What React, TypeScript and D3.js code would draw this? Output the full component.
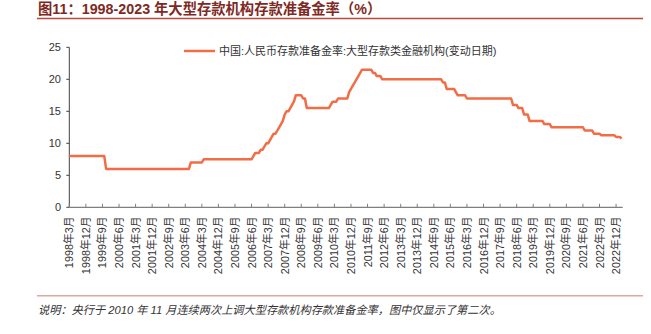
import React from "react";
import * as d3 from "d3";

// Change events: [year, month, rate(%)] — month-end value of the RRR for large institutions
const changeYears = [1998, 1999, 2003, 2004, 2006, 2006, 2006, 2007, 2007, 2007, 2007, 2007, 2007, 2007, 2007, 2007, 2007, 2008, 2008, 2008, 2008, 2008, 2008, 2008, 2010, 2010, 2010, 2010, 2010, 2011, 2011, 2011, 2011, 2011, 2011, 2011, 2012, 2012, 2015, 2015, 2015, 2015, 2016, 2018, 2018, 2018, 2019, 2019, 2020, 2021, 2021, 2022, 2022, 2023];
const changeMonths = [3, 11, 9, 4, 7, 8, 11, 1, 2, 4, 5, 6, 8, 9, 10, 11, 12, 1, 3, 4, 5, 6, 10, 12, 1, 2, 5, 11, 12, 1, 2, 3, 4, 5, 6, 12, 2, 5, 2, 4, 9, 10, 3, 4, 7, 10, 1, 9, 1, 7, 12, 4, 12, 3];
const changeRates = [8, 6, 7, 7.5, 8, 8.5, 9, 9.5, 10, 10.5, 11, 11.5, 12, 12.5, 13, 13.5, 14.5, 15, 15.5, 16, 16.5, 17.5, 17, 15.5, 16, 16.5, 17, 18, 18.5, 19, 19.5, 20, 20.5, 21, 21.5, 21, 20.5, 20, 19.5, 18.5, 18, 17.5, 17, 16, 15.5, 14.5, 13.5, 13, 12.5, 12, 11.5, 11.25, 11, 10.75];

const xTickLabels = [
  "1998年3月", "1998年12月", "1999年9月", "2000年6月", "2001年3月", "2001年12月", "2002年9月",
  "2003年6月", "2004年3月", "2004年12月", "2005年9月", "2006年6月", "2007年3月", "2007年12月",
  "2008年9月", "2009年6月", "2010年3月", "2010年12月", "2011年9月", "2012年6月", "2013年3月",
  "2013年12月", "2014年9月", "2015年6月", "2016年3月", "2016年12月", "2017年9月", "2018年6月",
  "2019年3月", "2019年12月", "2020年9月", "2021年6月", "2022年3月", "2022年12月",
];
const yTicks = [0, 5, 10, 15, 20, 25];

const titleText = "图11：1998-2023 年大型存款机构存款准备金率（%）";
const legendText = "中国:人民币存款准备金率:大型存款类金融机构(变动日期)";
const noteText = "说明：央行于 2010 年 11 月连续两次上调大型存款机构存款准备金率，图中仅显示了第二次。";

const W = 651;
const H = 334;
const FONT = "'Liberation Sans', 'Noto Sans CJK SC', sans-serif";
const LINE_COLOR = "#F26D45";

const monthIndex = (y: number, m: number) => (y - 1998) * 12 + (m - 3);

export default function App() {
  const x = d3.scaleLinear().domain([0, 300]).range([69.3, 621.6]);
  const y = d3.scaleLinear().domain([0, 25]).range([207.3, 47.3]);

  // Monthly line: each change connects from the prior month's value to the new month's value
  const pts: [number, number][] = [];
  changeYears.forEach((yr, i) => {
    const idx = monthIndex(yr, changeMonths[i]);
    if (i > 0) pts.push([idx - 1, changeRates[i - 1]]);
    pts.push([idx, changeRates[i]]);
  });

  const line = d3
    .line<[number, number]>()
    .x((d) => x(d[0]))
    .y((d) => y(d[1]));

  const x0 = x(0);
  const yBase = y(0);

  return (
    <svg
      width={W}
      height={H}
      style={{ position: "absolute", left: 0, top: 0, background: "#fff" }}
      fontFamily={FONT}
    >
      {/* Title */}
      <text x={38} y={14} fontSize={14.3} fontWeight="bold" fill="#7E2A24">
        {titleText}
      </text>
      <line x1={37} x2={643} y1={18.5} y2={18.5} stroke="#B9483A" strokeWidth={1.3} />

      {/* Legend */}
      <line x1={184} x2={215} y1={51} y2={51} stroke={LINE_COLOR} strokeWidth={2.5} />
      <text x={219} y={55} fontSize={11} fill="#333">
        {legendText}
      </text>

      {/* Y axis */}
      <line x1={x0} x2={x0} y1={y(25)} y2={yBase} stroke="#404040" strokeWidth={1} />
      {yTicks.map((t) => (
        <g key={t}>
          <line x1={x0 - 3} x2={x0} y1={y(t)} y2={y(t)} stroke="#404040" />
          <text x={61} y={y(t) + 4} fontSize={11} textAnchor="end" fill="#333">
            {t}
          </text>
        </g>
      ))}

      {/* X axis */}
      <line x1={x0} x2={622.7} y1={yBase} y2={yBase} stroke="#7F7F7F" strokeWidth={1.2} />
      {xTickLabels.map((lab, i) => {
        const px = x(i * 9);
        return (
          <g key={lab}>
            <line x1={px} x2={px} y1={yBase - 3.5} y2={yBase} stroke="#7F7F7F" />
            <text
              transform={`translate(${px + 4},216.5) rotate(-90)`}
              fontSize={10.8}
              textAnchor="end"
              fill="#333"
            >
              {lab}
            </text>
          </g>
        );
      })}

      {/* Series */}
      <path d={line(pts) ?? ""} fill="none" stroke={LINE_COLOR} strokeWidth={2.5} strokeLinejoin="round" />

      {/* Bottom rule & note */}
      <line x1={37} x2={643} y1={295.7} y2={295.7} stroke="#E0A898" strokeWidth={1.5} />
      <text x={38} y={313.5} fontSize={11.2} fontStyle="italic" fill="#333">
        {noteText}
      </text>
    </svg>
  );
}
